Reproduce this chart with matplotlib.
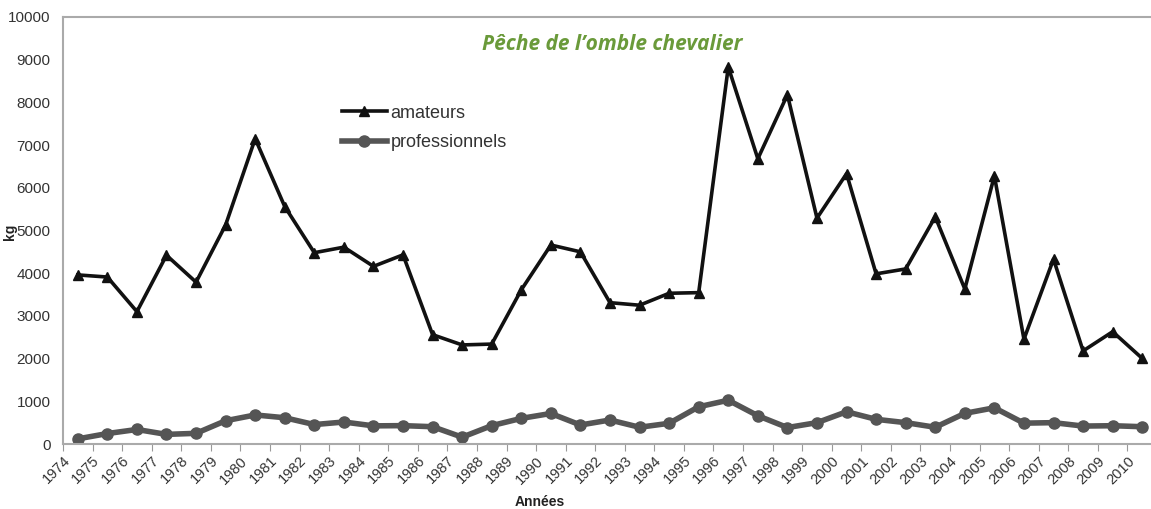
import numpy as np
import matplotlib.pyplot as plt

years = list(range(1974, 2011))

# kg per year
amateurs = [3960, 3910, 3100, 4420, 3790, 5130, 7150, 5560, 4480, 4610,
            4160, 4430, 2560, 2320, 2340, 3610, 4660, 4500, 3310, 3250,
            3530, 3545, 8830, 6680, 8180, 5290, 6330, 3985, 4100, 5320,
            3630, 6280, 2455, 4330, 2180, 2630, 2005]
professionnels = [120, 245, 340, 225, 250, 545, 680, 615, 455, 515,
                  425, 430, 405, 160, 430, 600, 715, 445, 562, 392,
                  485, 872, 1025, 662, 385, 500, 755, 578, 500, 392,
                  718, 848, 488, 500, 420, 428, 405]

fig = plt.figure(figsize=(11.51, 5.09), dpi=100)
ax = fig.add_axes([63 / 1151, 1 - 444 / 509, 1094 / 1151, 427 / 509])

x = np.arange(len(years)) + 0.5
ax.plot(x, amateurs, color="#111111", lw=2.6, marker="^", ms=7,
        label="amateurs")
ax.plot(x, professionnels, color="#555555", lw=4, marker="o", ms=8,
        label="professionnels")

ax.set_xlim(0, len(years))
ax.set_ylim(0, 10000)
ax.set_xticks(np.arange(len(years)))
ax.set_xticklabels([str(y) for y in years], rotation=45, ha="right",
                   rotation_mode="anchor", fontsize=10.5, color="#333333",
                   family="Liberation Sans")
ax.set_yticks(range(0, 10001, 1000))
ax.set_yticklabels([str(v) for v in range(0, 10001, 1000)], fontsize=11,
                   color="#333333", family="Liberation Sans")
ax.tick_params(axis="x", length=5, color="#999999", pad=2)
ax.tick_params(axis="y", length=0, pad=9)

for s in ["left", "bottom", "top"]:
    ax.spines[s].set_color("#aaaaaa")
    ax.spines[s].set_linewidth(1.5)
ax.spines["right"].set_visible(False)

ax.set_xlabel("Années", fontsize=10, fontweight="bold", color="#222222",
              family="Liberation Sans")
ax.xaxis.set_label_coords((540 - 63) / 1094, -(495 - 444) / 427)
ax.set_ylabel("kg", fontsize=10, fontweight="bold", color="#222222",
              family="Liberation Sans")
ax.yaxis.set_label_coords((17 - 63) / 1094, (444 - 232) / 427)

ax.text(0.502, 0.936, "Pêche de l’omble chevalier", transform=ax.transAxes,
        ha="center", va="center", fontsize=15, fontweight="bold",
        style="italic", color="#6a9a3a", family="Open Sans")

leg = ax.legend(loc="center left", bbox_to_anchor=(0.24, 0.74), frameon=False,
                handlelength=2.5, handletextpad=0.2, labelspacing=0.7,
                prop={"family": "Liberation Sans", "size": 13})
for t in leg.get_texts():
    t.set_color("#333333")

fig.savefig("out.png", dpi=100)
